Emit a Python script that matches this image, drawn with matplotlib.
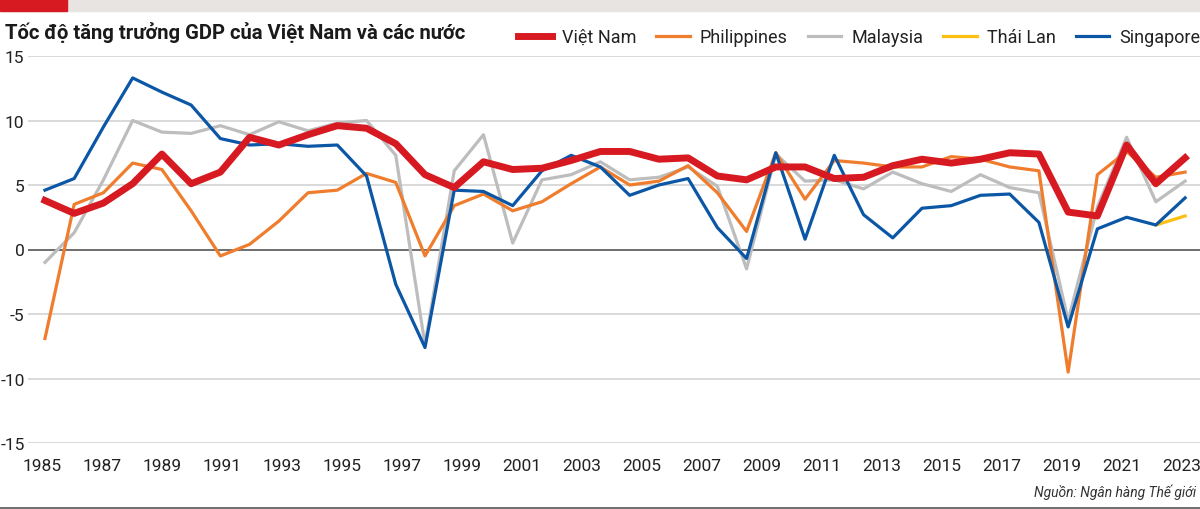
import numpy as np
import matplotlib
matplotlib.use("Agg")
import matplotlib.pyplot as plt
from matplotlib.lines import Line2D
from matplotlib.patches import Rectangle

# GDP growth (%), 1985-2024
years = np.arange(1985, 2025)

viet = [3.8, 2.8, 3.6, 5.1, 7.4, 5.1, 6.0, 8.7, 8.1, 8.9,
        9.6, 9.4, 8.2, 5.8, 4.8, 6.8, 6.2, 6.3, 6.9, 7.6,
        7.6, 7.0, 7.1, 5.7, 5.4, 6.4, 6.4, 5.5, 5.6, 6.5,
        7.0, 6.7, 7.0, 7.5, 7.4, 2.9, 2.6, 8.1, 5.1, 7.1]
phil = [-6.9, 3.5, 4.4, 6.7, 6.2, 3.0, -0.5, 0.4, 2.2, 4.4,
        4.6, 5.9, 5.2, -0.5, 3.4, 4.3, 3.0, 3.7, 5.1, 6.4,
        5.0, 5.3, 6.5, 4.4, 1.4, 7.5, 3.9, 6.9, 6.7, 6.4,
        6.4, 7.2, 7.0, 6.4, 6.1, -9.5, 5.8, 7.6, 5.6, 6.0]
malay = [-1.0, 1.3, 5.4, 10.0, 9.1, 9.0, 9.6, 8.9, 9.9, 9.2,
         9.8, 10.0, 7.3, -7.4, 6.1, 8.9, 0.5, 5.4, 5.8, 6.8,
         5.4, 5.6, 6.4, 4.9, -1.5, 7.4, 5.3, 5.4, 4.7, 6.0,
         5.1, 4.5, 5.8, 4.8, 4.4, -5.5, 3.3, 8.7, 3.7, 5.3]
thai = [np.nan] * 38 + [1.9, 2.6]
sing = [4.6, 5.5, 9.5, 13.3, 12.2, 11.2, 8.6, 8.1, 8.2, 8.0,
        8.1, 5.7, -2.7, -7.6, 4.6, 4.5, 3.4, 6.1, 7.3, 6.4,
        4.2, 5.0, 5.5, 1.7, -0.7, 7.5, 0.8, 7.3, 2.7, 0.9,
        3.2, 3.4, 4.2, 4.3, 2.1, -6.0, 1.6, 2.5, 1.9, 4.0]

tick_labels = [str(y) for y in range(1985, 2024, 2)]
y_ticks = [-15, -10, -5, 0, 5, 10, 15]

names = ["Việt Nam", "Philippines", "Malaysia", "Thái Lan", "Singapore"]
colors = ["#d71a21", "#ef7d2d", "#bdbdbd", "#fcbf12", "#0b57a6"]

plt.rcParams['font.family'] = ['Roboto', 'DejaVu Sans']
plt.rcParams['axes.unicode_minus'] = False

fig = plt.figure(figsize=(12, 5.1), dpi=100)
ax = fig.add_axes([28 / 1200, 1 - 444 / 510, 1 - 28 / 1200, (444 - 57) / 510])

# grid
for v in y_ticks:
    if v == 0:
        ax.axhline(v, color="#555555", lw=1.2, zorder=1)
    else:
        ax.axhline(v, color="#d9d9d9", lw=1.4, zorder=0)

ax.plot(years, malay, color=colors[2], lw=2.3, zorder=2)
ax.plot(years, phil, color=colors[1], lw=2.3, zorder=3)
ax.plot(years, thai, color=colors[3], lw=2.3, zorder=4)
ax.plot(years, sing, color=colors[4], lw=2.3, zorder=5)
ax.plot(years, viet, color=colors[0], lw=5.0, zorder=6)

ax.set_xlim(1984.42, 2024.51)
ax.set_ylim(-15, 15)
ax.set_xticks(np.linspace(1984.9, 2023.9, len(tick_labels)))
ax.set_xticklabels(tick_labels)
ax.set_yticks(y_ticks)
ax.tick_params(axis='both', length=0, labelsize=12.5, colors="#222222")
ax.tick_params(axis='x', pad=11)
ax.tick_params(axis='y', pad=2.5, labelsize=12.5)
for s in ax.spines.values():
    s.set_visible(False)

# header bar
fig.patches.append(Rectangle((0, 1 - 12 / 510), 1, 12 / 510, transform=fig.transFigure,
                             color="#e7e4e2", zorder=0))
fig.patches.append(Rectangle((0, 1 - 12 / 510), 67 / 1200, 12 / 510, transform=fig.transFigure,
                             color="#d71a21", zorder=1))
fig.text(5 / 1200, 1 - 33 / 510, "Tốc độ tăng trưởng GDP của Việt Nam và các nước",
         fontsize=14.6, fontweight='bold', color="#1a1a1a", va='center', ha='left')

# legend
handles = [Line2D([], [], color=colors[0], lw=5.0)] + \
          [Line2D([], [], color=c, lw=2.3) for c in colors[1:]]
fig.legend(handles, names, loc='center right', bbox_to_anchor=(1.0, 1 - 38 / 510),
           ncol=5, frameon=False, fontsize=13, handlelength=1.85, handletextpad=0.55,
           columnspacing=1.12, borderaxespad=0, borderpad=0, labelcolor="#222222")

# bottom rule and source
fig.add_artist(Line2D([0, 1], [1.5 / 510, 1.5 / 510], transform=fig.transFigure,
                      color="#555555", lw=1.2))
fig.text(1196 / 1200, 1 - 492 / 510, "Nguồn: Ngân hàng Thế giới", fontsize=10,
         style='italic', color="#333333", ha='right', va='center')

fig.savefig("out.png", dpi=100)
